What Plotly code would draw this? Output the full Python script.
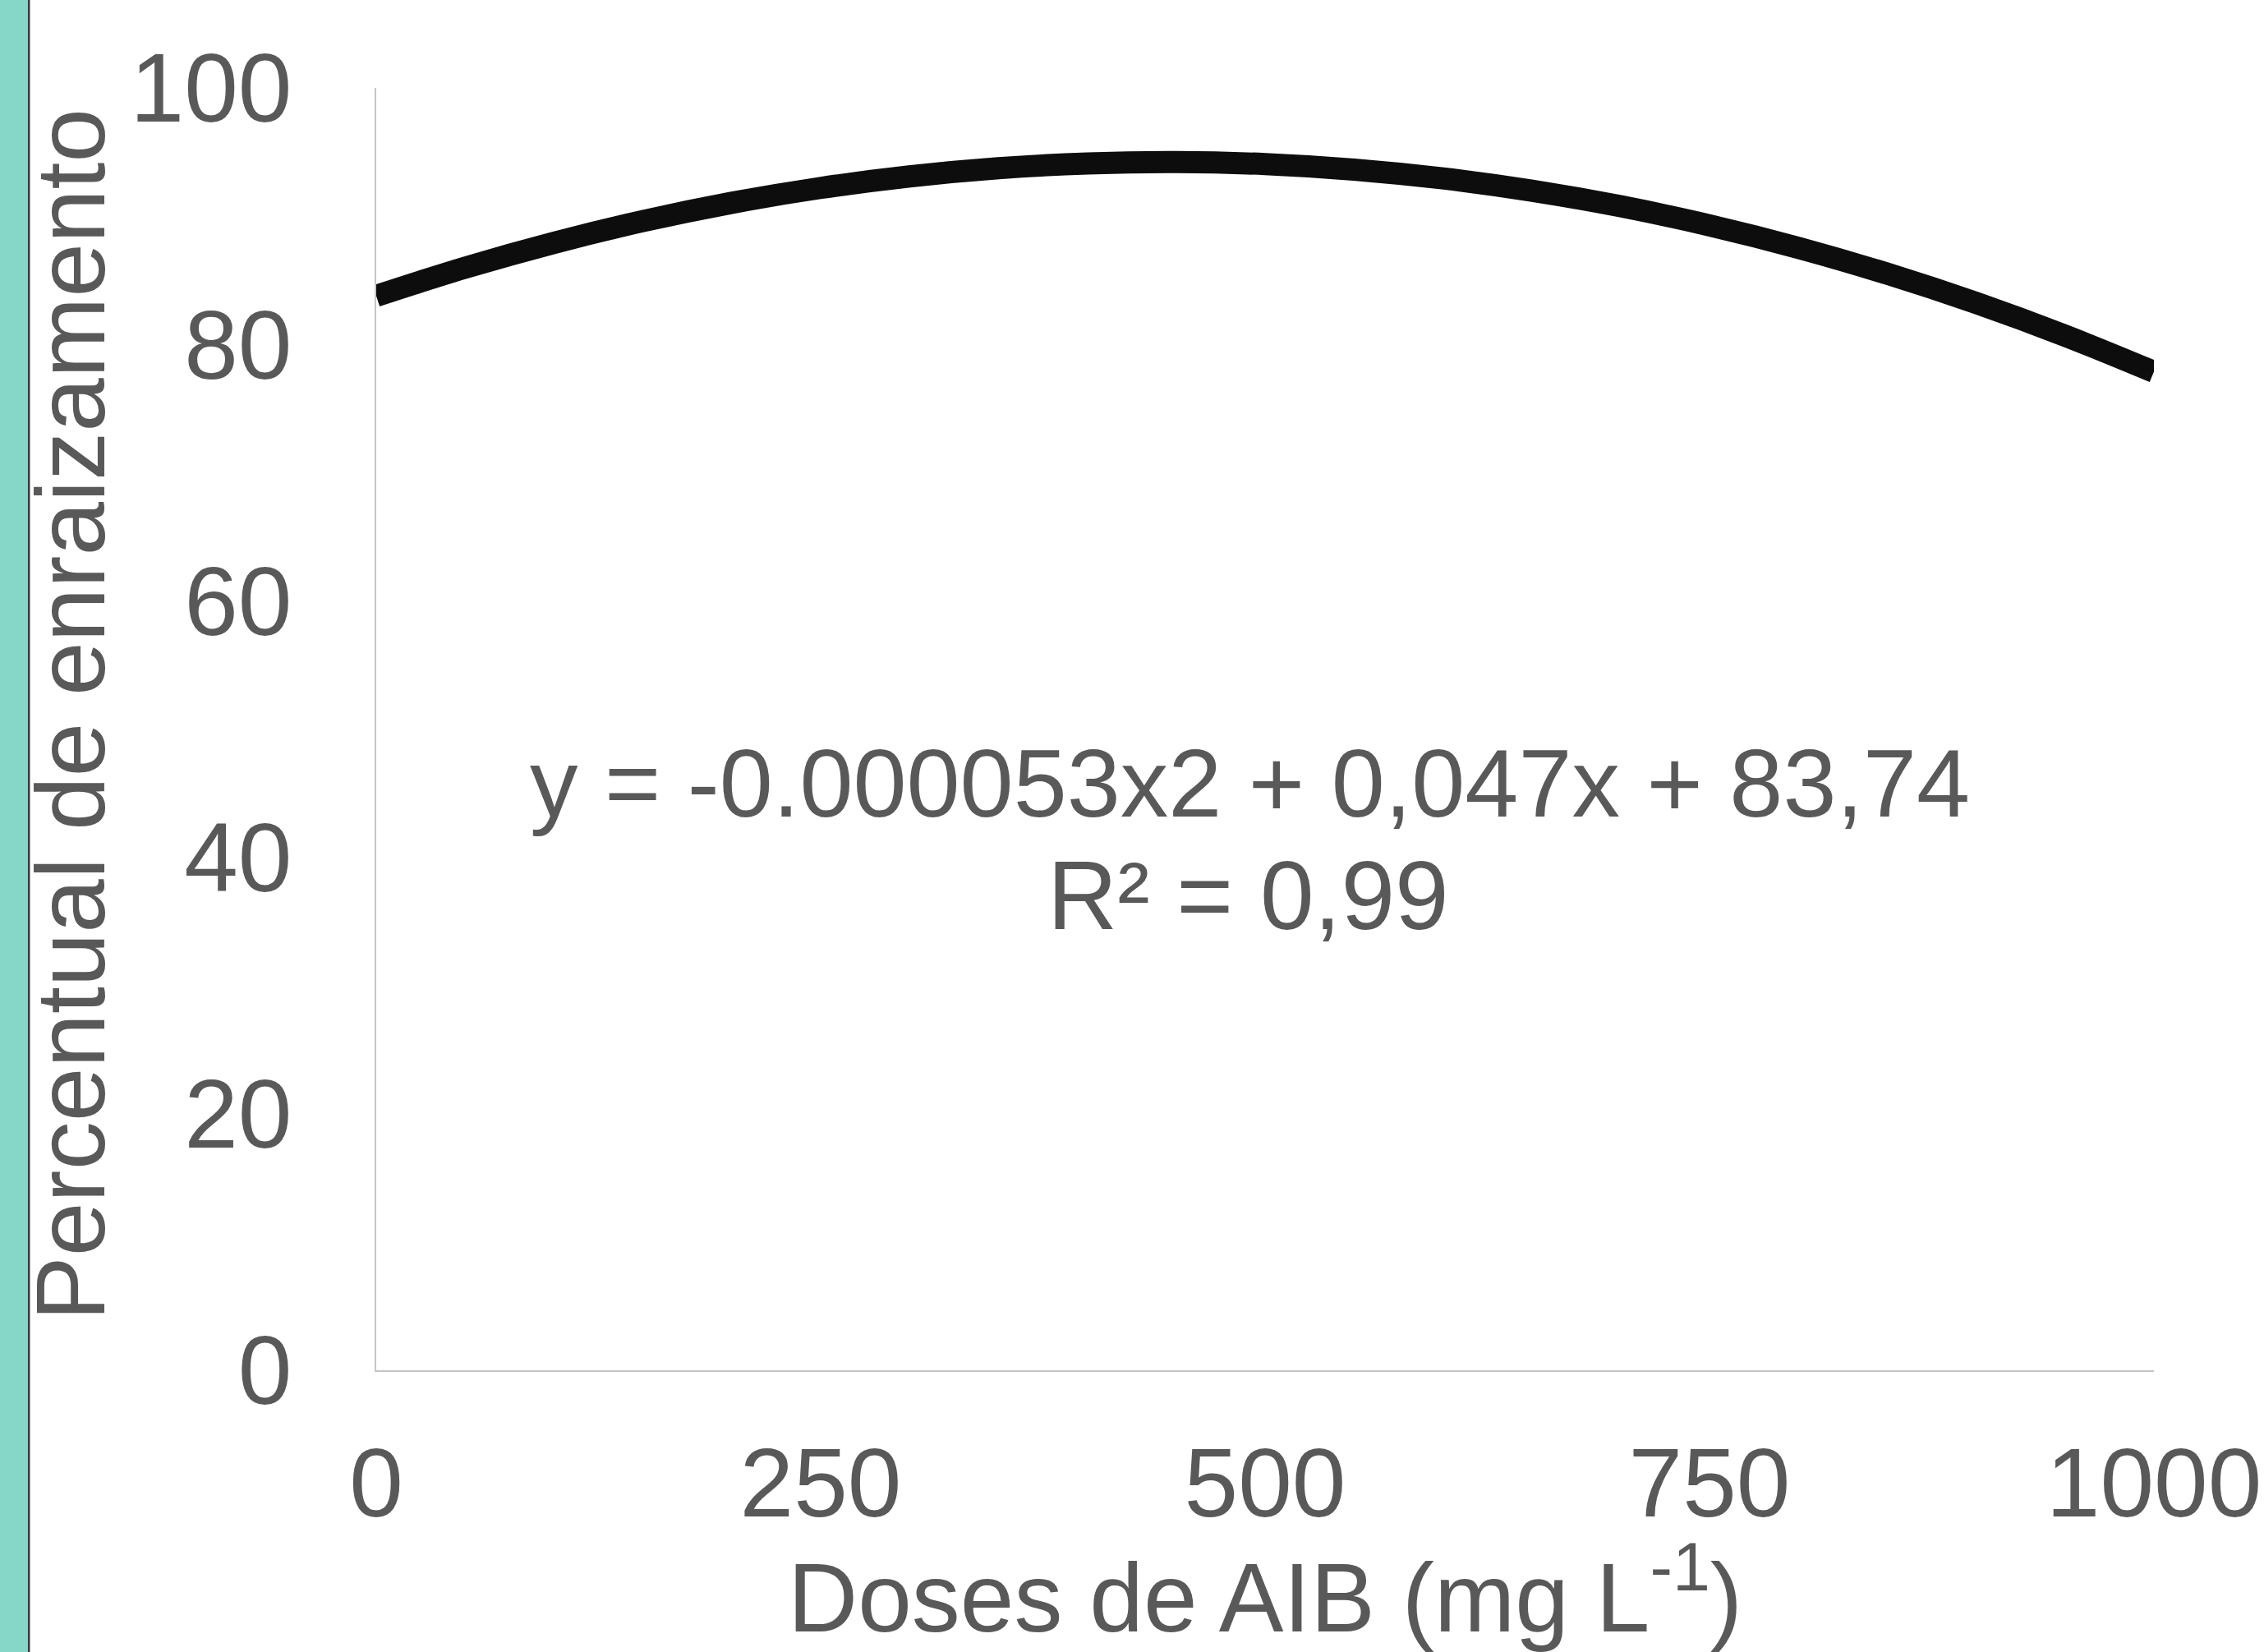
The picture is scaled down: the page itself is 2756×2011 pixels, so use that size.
import plotly.graph_objects as go

# Doses de AIB (mg L-1) and rooting percentage
doses = [0, 50, 100, 150, 200, 250, 300, 350, 400, 450, 500, 550, 600, 650, 700, 750, 800, 850, 900, 950, 1000]
enraizamento = [83.78, 85.98, 87.92, 89.61, 91.04, 92.20, 93.10, 93.74, 94.11, 94.22, 94.06, 93.63, 92.94, 91.99, 90.77, 89.28, 87.53, 85.51, 83.23, 80.68, 77.86]

x_ticks = [0, 250, 500, 750, 1000]
y_ticks = [0, 20, 40, 60, 80, 100]

equation = "y = -0.000053x2 + 0,047x + 83,74"
r2_text = "R² = 0,99"

W, H = 2756, 2011
L, R, T, B = 458, 2622, 107, 1668
FONT = "Liberation Sans, Arial, sans-serif"
GREY = "#595959"
FS = 118

def px(xp):
    return (xp - L) / (R - L)

def py(yp):
    return (B - yp) / (B - T)

fig = go.Figure()
fig.add_trace(go.Scatter(
    x=doses, y=enraizamento, mode="lines",
    line=dict(color="#0D0D0D", width=27, shape="spline", smoothing=1.0),
    showlegend=False, hoverinfo="skip",
))

fig.update_layout(
    width=W, height=H, autosize=False,
    margin=dict(l=L, r=W - R, t=T, b=H - B, pad=0, autoexpand=False),
    paper_bgcolor="white", plot_bgcolor="white",
    font=dict(family=FONT, color=GREY, size=FS),
    xaxis=dict(
        range=[0, 1000], tickvals=x_ticks, ticktext=[str(v) for v in x_ticks],
        showgrid=False, zeroline=False, showline=True, linecolor="#C6C6C6",
        linewidth=2, ticks="", tickfont=dict(size=FS, color=GREY, family=FONT),
        ticklabelstandoff=34, automargin=False,
    ),
    yaxis=dict(
        range=[0, 100], tickvals=y_ticks, ticktext=[str(v) for v in y_ticks],
        showgrid=False, zeroline=False, showline=True, linecolor="#C6C6C6",
        linewidth=2, ticks="", tickfont=dict(size=FS, color=GREY, family=FONT),
        ticklabelstandoff=77, automargin=False,
    ),
    shapes=[
        dict(type="rect", xref="paper", yref="paper",
             x0=px(-5), x1=px(34), y0=py(2100), y1=py(-50),
             fillcolor="#87D7C9", line=dict(width=0), layer="above"),
        dict(type="rect", xref="paper", yref="paper",
             x0=px(34), x1=px(36), y0=py(2100), y1=py(-50),
             fillcolor="#2E3D3A", line=dict(width=0), layer="above"),
        dict(type="rect", xref="paper", yref="paper",
             x0=px(36), x1=px(37), y0=py(2100), y1=py(-50),
             fillcolor="#A0A0A0", line=dict(width=0), layer="above"),
    ],
    annotations=[
        dict(text="Percentual de enraizamento", xref="paper", yref="paper",
             x=px(86), y=py(870), textangle=-90, showarrow=False,
             xanchor="center", yanchor="middle",
             font=dict(size=FS, color=GREY, family=FONT)),
        dict(text="Doses de AIB (mg L<sup>-1</sup>)", xref="paper", yref="paper",
             x=px(1540), y=py(1936), showarrow=False,
             xanchor="center", yanchor="middle",
             font=dict(size=FS, color=GREY, family=FONT)),
        dict(text=equation, xref="paper", yref="paper",
             x=px(1521), y=py(953), showarrow=False,
             xanchor="center", yanchor="middle",
             font=dict(size=117, color=GREY, family=FONT)),
        dict(text=r2_text, xref="paper", yref="paper",
             x=px(1519), y=py(1090), showarrow=False,
             xanchor="center", yanchor="middle",
             font=dict(size=FS, color=GREY, family=FONT)),
    ],
)

fig.write_html(
    "out.html",
    config={"displayModeBar": False, "responsive": False},
    post_script="document.body.style.margin='0';document.body.style.overflow='hidden';",
)
